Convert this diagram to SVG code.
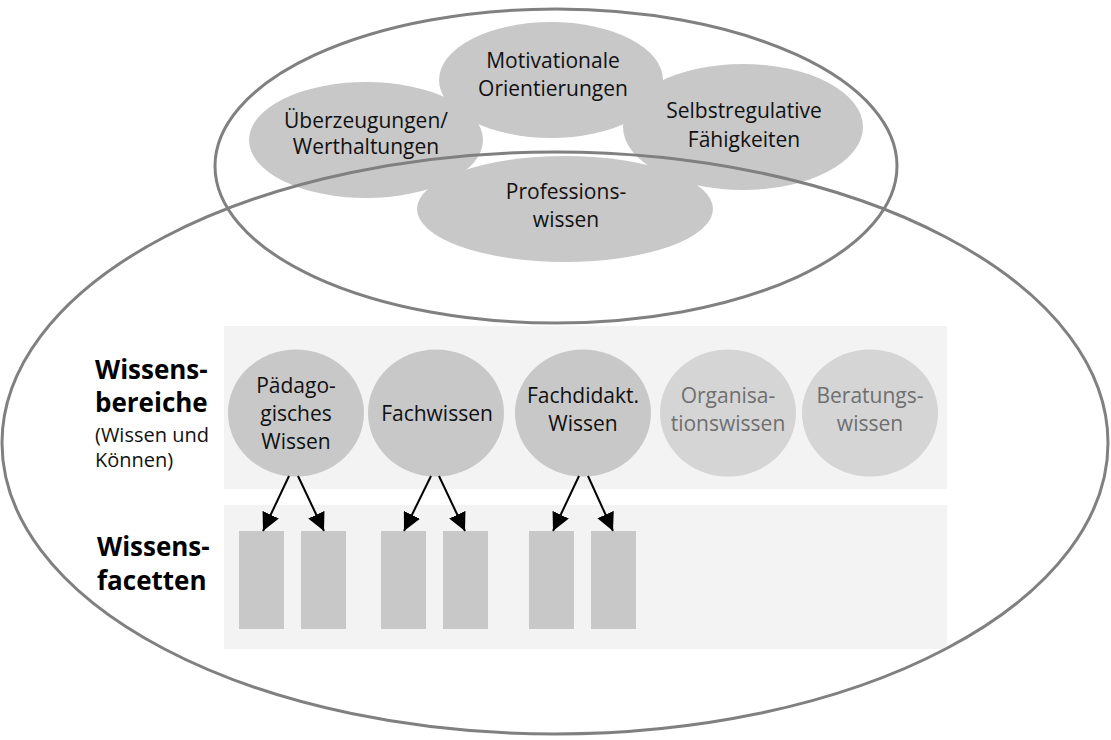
<svg xmlns="http://www.w3.org/2000/svg" width="1111" height="740" viewBox="0 0 1111 740">
<defs>
<style>
.blob{fill:#c8c8c8}
.light{fill:#d5d5d5}
.band{fill:#f3f3f3}
.outline{fill:none;stroke:#808080;stroke-width:3}
.facet{fill:#c8c8c8}
text{font-family:"Open Sans","Noto Sans","Liberation Sans",sans-serif;font-size:21px;fill:#111;text-anchor:middle}
.gray{fill:#6f6f6f}
.lbl{font-weight:bold;font-size:26px;text-anchor:start;fill:#000}
.sub{font-size:20px;text-anchor:start}
.arrow{stroke:#000;stroke-width:2;fill:none;marker-end:url(#ah)}
</style>
<marker id="ah" markerUnits="userSpaceOnUse" markerWidth="18" markerHeight="18" viewBox="0 0 16 16" refX="16" refY="8" orient="auto">
<path d="M0,0 L16,8 L0,16 Z" fill="#000"/>
</marker>
</defs>
<rect width="1111" height="740" fill="#fff"/>

<g id="bands">
<rect class="band" x="224" y="326" width="723" height="163"/>
<rect class="band" x="224" y="505" width="723" height="144"/>
</g>

<g id="ueberzeugungen">
<ellipse class="blob" cx="366" cy="140" rx="117" ry="58"/>
</g>
<g id="motivationale">
<ellipse class="blob" cx="551" cy="80" rx="112" ry="58"/>
</g>
<g id="selbstregulative">
<ellipse class="blob" cx="743" cy="127" rx="120" ry="63"/>
</g>
<g id="professionswissen">
<ellipse class="blob" cx="565" cy="209" rx="148" ry="53"/>
</g>

<g id="outer-ellipses">
<ellipse class="outline" cx="556" cy="166" rx="341" ry="157"/>
<ellipse class="outline" cx="555" cy="443" rx="553" ry="291"/>
</g>

<g id="blob-texts">
<text x="366" y="128">Überzeugungen/</text>
<text x="366" y="154">Werthaltungen</text>
<text x="553" y="68">Motivationale</text>
<text x="553" y="96">Orientierungen</text>
<text x="744" y="118">Selbstregulative</text>
<text x="744" y="147">Fähigkeiten</text>
<text x="566" y="199">Professions-</text>
<text x="566" y="227">wissen</text>
</g>

<g id="label-bereiche">
<text class="lbl" x="95" y="379">Wissens-</text>
<text class="lbl" x="95" y="412">bereiche</text>
<text class="sub" x="95" y="442">(Wissen und</text>
<text class="sub" x="95" y="467">Können)</text>
</g>
<g id="label-facetten">
<text class="lbl" x="97" y="556">Wissens-</text>
<text class="lbl" x="97" y="590">facetten</text>
</g>

<g id="paedagogisches">
<ellipse class="blob" cx="296" cy="413" rx="68" ry="63.5"/>
<text x="296" y="393">Pädago-</text>
<text x="296" y="421">gisches</text>
<text x="296" y="449">Wissen</text>
</g>
<g id="fachwissen">
<ellipse class="blob" cx="436" cy="413" rx="68" ry="63.5"/>
<text x="437" y="421">Fachwissen</text>
</g>
<g id="fachdidaktisch">
<ellipse class="blob" cx="583" cy="413" rx="68" ry="63.5"/>
<text x="583" y="403">Fachdidakt.</text>
<text x="583" y="431">Wissen</text>
</g>
<g id="organisation">
<ellipse class="light" cx="728" cy="413" rx="68" ry="63.5"/>
<text class="gray" x="728" y="403">Organisa-</text>
<text class="gray" x="728" y="431">tionswissen</text>
</g>
<g id="beratung">
<ellipse class="light" cx="870" cy="413" rx="68" ry="63.5"/>
<text class="gray" x="870" y="403">Beratungs-</text>
<text class="gray" x="870" y="431">wissen</text>
</g>

<g id="facets">
<rect class="facet" x="239" y="531" width="45" height="98"/>
<rect class="facet" x="301" y="531" width="45" height="98"/>
<rect class="facet" x="381" y="531" width="45" height="98"/>
<rect class="facet" x="443" y="531" width="45" height="98"/>
<rect class="facet" x="529" y="531" width="45" height="98"/>
<rect class="facet" x="591" y="531" width="45" height="98"/>
</g>

<g id="connectors">
<line class="arrow" x1="289" y1="476" x2="263" y2="531"/>
<line class="arrow" x1="298" y1="476" x2="324" y2="531"/>
<line class="arrow" x1="431" y1="476" x2="404" y2="531"/>
<line class="arrow" x1="439" y1="476" x2="465" y2="531"/>
<line class="arrow" x1="579" y1="476" x2="553" y2="531"/>
<line class="arrow" x1="588" y1="476" x2="613" y2="531"/>
</g>
</svg>
